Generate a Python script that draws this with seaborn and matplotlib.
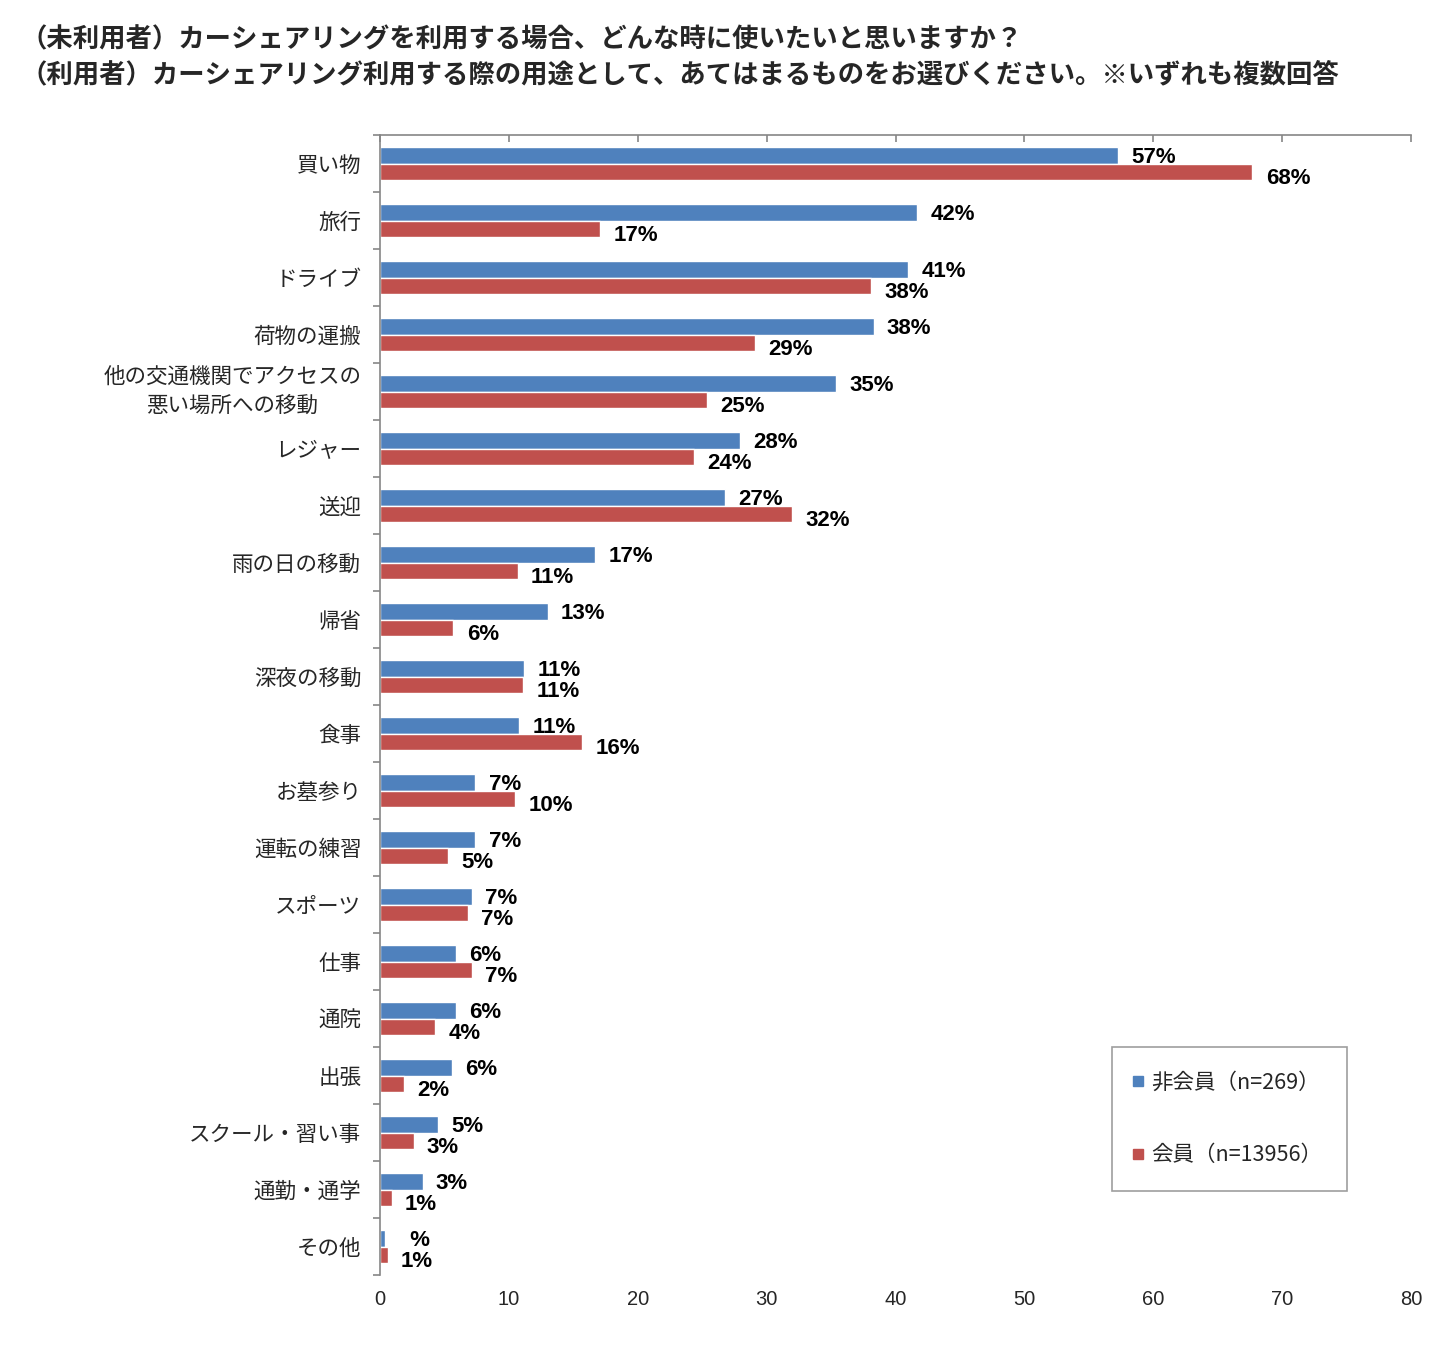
import numpy as np
import pandas as pd
import matplotlib
matplotlib.use("Agg")
import matplotlib.pyplot as plt
from matplotlib.lines import Line2D
import seaborn as sns

categories = ["買い物", "旅行", "ドライブ", "荷物の運搬",
              "他の交通機関でアクセスの\n悪い場所への移動", "レジャー", "送迎",
              "雨の日の移動", "帰省", "深夜の移動", "食事", "お墓参り", "運転の練習",
              "スポーツ", "仕事", "通院", "出張", "スクール・習い事", "通勤・通学", "その他"]
series_names = ["非会員（n=269）", "会員（n=13956）"]
nonmember = [57.3, 41.7, 41.0, 38.3, 35.4, 27.9, 26.8, 16.7, 13.0, 11.2,
             10.8, 7.4, 7.4, 7.1, 5.9, 5.9, 5.6, 4.5, 3.3, 0.4]
member = [67.7, 17.1, 38.1, 29.1, 25.4, 24.4, 32.0, 10.7, 5.7, 11.1,
          15.7, 10.5, 5.3, 6.8, 7.1, 4.3, 1.9, 2.6, 0.9, 0.6]
nonmember_labels = ["57%", "42%", "41%", "38%", "35%", "28%", "27%", "17%", "13%", "11%",
                    "11%", "7%", "7%", "7%", "6%", "6%", "6%", "5%", "3%", "  %"]
member_labels = ["68%", "17%", "38%", "29%", "25%", "24%", "32%", "11%", "6%", "11%",
                 "16%", "10%", "5%", "7%", "7%", "4%", "2%", "3%", "1%", "1%"]
x_ticks = [0, 10, 20, 30, 40, 50, 60, 70, 80]
title_lines = ["（未利用者）カーシェアリングを利用する場合、どんな時に使いたいと思いますか？",
               "（利用者）カーシェアリング利用する際の用途として、あてはまるものをお選びください。※いずれも複数回答"]

colors = ["#4F81BD", "#C0504D"]
gray = "#868686"

df = pd.DataFrame({
    "category": categories * 2,
    "series": [series_names[0]] * len(categories) + [series_names[1]] * len(categories),
    "value": nonmember + member,
})

sns.set_style("white")
plt.rcParams["font.family"] = ["Noto Sans CJK JP", "DejaVu Sans"]

fig = plt.figure(figsize=(14.46, 13.51), dpi=100)
ax = fig.add_axes([380 / 1446, 1 - 1275 / 1351, (1411 - 380) / 1446, (1275 - 135) / 1351])

sns.barplot(data=df, y="category", x="value", hue="series", orient="h",
            palette=colors, saturation=1, width=0.58, gap=0, legend=False, ax=ax,
            order=categories, hue_order=series_names)

ax.set_xlim(0, 80)
ax.set_ylim(len(categories) - 0.5, -0.5)
ax.set_xlabel("")
ax.set_ylabel("")

for s in ["right", "bottom"]:
    ax.spines[s].set_visible(False)
for s in ["top", "left"]:
    ax.spines[s].set_color(gray)
    ax.spines[s].set_linewidth(1.2)

ax.set_xticks(x_ticks)
ax.set_xticklabels([str(t) for t in x_ticks], family="Liberation Sans", fontsize=14.5)
ax.tick_params(axis="x", top=True, bottom=False, labelbottom=True, labeltop=False,
               direction="in", length=5, width=1.2, color=gray, pad=11)

ax.set_yticks(range(len(categories)))
ax.set_yticklabels(categories, fontsize=15.5, linespacing=1.45)
for lab in ax.get_yticklabels():
    lab.set_multialignment("center")
    if "\n" in lab.get_text():
        lab.set_verticalalignment("center")
ax.tick_params(axis="y", which="major", length=0, pad=13.5)
ax.set_yticks(np.arange(-0.5, len(categories), 1), minor=True)
ax.tick_params(axis="y", which="minor", left=True, length=5, width=1.2, color=gray, direction="out")

label_sets = [nonmember_labels, member_labels]
dy = [-1.5, -4.5]
for ci, cont in enumerate(ax.containers[:2]):
    for patch, lab in zip(cont.patches, label_sets[ci]):
        w = patch.get_width()
        yc = patch.get_y() + patch.get_height() / 2
        ax.annotate(lab, xy=(w, yc), xytext=(9.5, dy[ci]), textcoords="offset points",
                    ha="left", va="center", fontsize=16, fontweight="bold",
                    family="Liberation Sans", color="black", annotation_clip=False)

handles = [Line2D([0], [0], marker="s", linestyle="none", markersize=7,
                  markerfacecolor=c, markeredgecolor=c) for c in colors]
leg = fig.legend(handles, series_names, loc="upper left",
                 bbox_to_anchor=(1112 / 1446, 1 - 1047 / 1351),
                 frameon=True, fancybox=False, fontsize=15.5, labelspacing=2.35,
                 handlelength=0.1, handletextpad=0.55, borderpad=1.15, borderaxespad=0)
leg.get_frame().set_edgecolor(gray)
leg.get_frame().set_linewidth(1.2)

fig.text(20 / 1446, 1 - 40 / 1351, title_lines[0], fontsize=19, fontweight="bold",
         ha="left", va="center")
fig.text(20 / 1446, 1 - 75 / 1351, title_lines[1], fontsize=19, fontweight="bold",
         ha="left", va="center")

fig.savefig("out.png", dpi=100, facecolor="white")
